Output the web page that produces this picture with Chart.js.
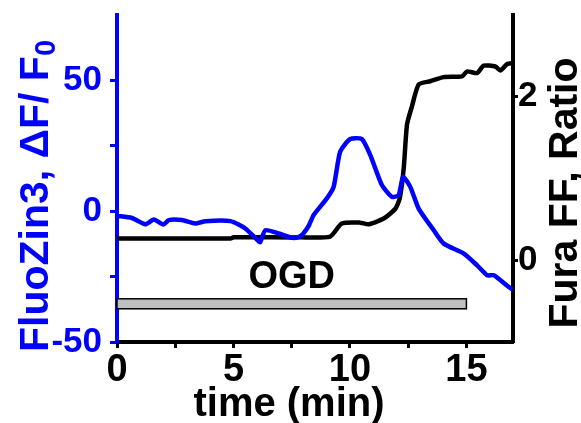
<!DOCTYPE html>
<html>
<head>
<meta charset="utf-8">
<script src="https://cdn.jsdelivr.net/npm/chart.js@4"></script>
<style>
  html, body { margin: 0; padding: 0; background: #fff; }
</style>
</head>
<body>
<canvas id="myChart" width="581" height="423"></canvas>
<script>
// FluoZin3 trace (left axis, dF/F0 %)
const znTimes  = [0, 0.64, 1.22, 1.58, 2.0, 2.22, 2.79, 3.36, 3.8, 4.87, 5.51, 6.08, 6.15, 6.37, 6.94, 7.52, 7.81, 8.0, 8.24, 8.44, 9.01, 9.3, 9.58, 10.01, 10.51, 10.87, 11.37, 11.8, 12.09, 12.28, 12.59, 12.95, 13.6, 14.03, 14.89, 15.46, 15.89, 16.18, 16.82, 17];
const znValues = [-1.8, -2.6, -5, -3.2, -5.1, -3.4, -3.4, -4.7, -3.8, -3.8, -6.6, -11.5, -11.8, -7.3, -8.5, -10.2, -9.8, -8.5, -5.4, -1.5, 4.9, 9.3, 22.7, 27.6, 27.6, 21.5, 10, 5.5, 6.1, 13.1, 9.3, 1.0, -7.3, -12.4, -16.2, -20.7, -24.5, -24.5, -29, -30];

// Fura FF trace (right axis, ratio)
const caTimes  = [0, 4.87, 5.0, 7.86, 9.15, 9.65, 10.44, 10.8, 11.45, 11.95, 12.14, 12.31, 12.45, 12.66, 12.95, 13.45, 14.02, 14.81, 15.03, 15.46, 15.74, 16.24, 16.46, 16.75, 17];
const caValues = [0.266, 0.266, 0.28, 0.28, 0.29, 0.45, 0.46, 0.44, 0.51, 0.63, 0.76, 1.13, 1.66, 1.88, 2.15, 2.19, 2.24, 2.25, 2.31, 2.29, 2.38, 2.37, 2.32, 2.40, 2.41];

const xTickLabels  = [0, 5, 10, 15];
const znTickLabels = [-50, 0, 50];
const caTickLabels = [0, 2];

// OGD period bar
const ogdStart = 0;
const ogdEnd = 15;
const ogdLevel = -35.4;
const ogdLabel = 'OGD';

const FONT = "'Liberation Sans', Arial, sans-serif";
const BLUE = '#0000ff';

const toPoints = (xs, ys) => xs.map((x, i) => ({ x: x, y: ys[i] }));

// draws the OGD bar and the rotated axis titles
const extrasPlugin = {
    id: 'extras',
    beforeDatasetsDraw(chart) {
        const c = chart.ctx;
        const xs = chart.scales.x;
        const ys = chart.scales.yZn;
        const x0 = xs.getPixelForValue(ogdStart);
        const x1 = xs.getPixelForValue(ogdEnd);
        const yc = ys.getPixelForValue(ogdLevel);
        c.save();
        c.fillStyle = '#c0c0c0';
        c.fillRect(x0, yc - 5, x1 - x0, 10);
        c.strokeStyle = '#000';
        c.lineWidth = 1.5;
        c.strokeRect(x0, yc - 5, x1 - x0, 10);
        c.fillStyle = '#000';
        c.font = 'bold 38px ' + FONT;
        c.textAlign = 'center';
        c.textBaseline = 'alphabetic';
        c.fillText(ogdLabel, (x0 + x1) / 2, yc - 16);
        c.restore();
    },
    afterDraw(chart) {
        const c = chart.ctx;
        c.save();
        c.textBaseline = 'alphabetic';
        c.textAlign = 'left';

        // left title with subscript
        c.save();
        c.translate(48, 196);
        c.rotate(-Math.PI / 2);
        c.fillStyle = BLUE;
        c.font = 'bold 41px ' + FONT;
        const main = 'FluoZin3, \u0394F/ F';
        const w1 = c.measureText(main).width;
        c.font = 'bold 29px ' + FONT;
        const w2 = c.measureText('0').width;
        const start = -(w1 + w2) / 2;
        c.font = 'bold 41px ' + FONT;
        c.fillText(main, start, 0);
        c.font = 'bold 29px ' + FONT;
        c.fillText('0', start + w1, 7);
        c.restore();

        // right title
        c.save();
        c.translate(577, 193);
        c.rotate(-Math.PI / 2);
        c.fillStyle = '#000';
        c.font = 'bold 41px ' + FONT;
        c.textAlign = 'center';
        c.fillText('Fura FF, Ratio', 0, 0);
        c.restore();

        // x title
        c.fillStyle = '#000';
        c.font = 'bold 40px ' + FONT;
        c.textAlign = 'center';
        c.fillText('time (min)', 289, 416);
        c.restore();
    }
};

const fitVertical = w => s => {
    s.width = w;
    s.paddingTop = 0;
    s.paddingBottom = 0;
};

const ctx = document.getElementById('myChart').getContext('2d');

const chart = new Chart(ctx, {
    type: 'line',
    data: {
        datasets: [
            {
                label: 'FluoZin3',
                data: toPoints(znTimes, znValues),
                yAxisID: 'yZn',
                borderColor: BLUE,
                borderWidth: 4.5,
                pointRadius: 0,
                tension: 0.2,
                fill: false
            },
            {
                label: 'Fura FF',
                data: toPoints(caTimes, caValues),
                yAxisID: 'yCa',
                borderColor: '#000',
                borderWidth: 4.5,
                pointRadius: 0,
                tension: 0.2,
                fill: false
            }
        ]
    },
    options: {
        responsive: false,
        animation: false,
        layout: { padding: { top: 15, left: 0, right: 0, bottom: 0 } },
        plugins: {
            legend: { display: false },
            tooltip: { enabled: false }
        },
        scales: {
            x: {
                type: 'linear',
                position: 'bottom',
                min: 0,
                max: 17,
                afterFit: s => {
                    s.height = 81;
                    s.paddingLeft = 0;
                    s.paddingRight = 0;
                },
                ticks: {
                    stepSize: 2.5,
                    includeBounds: false,
                    autoSkip: false,
                    maxRotation: 0,
                    padding: 0,
                    color: '#000',
                    font: { family: FONT, size: 38, weight: 'bold' },
                    callback: v => xTickLabels.includes(v) ? String(v) : ''
                },
                grid: { drawOnChartArea: false, tickLength: 6, tickWidth: 3, tickColor: '#000' },
                border: { color: '#000', width: 4 }
            },
            yZn: {
                type: 'linear',
                position: 'left',
                min: -50,
                max: 75,
                afterFit: fitVertical(117),
                ticks: {
                    stepSize: 25,
                    includeBounds: false,
                    autoSkip: false,
                    padding: 8,
                    color: BLUE,
                    font: { family: FONT, size: 35, weight: 'bold' },
                    callback: v => znTickLabels.includes(v) ? String(v) : ''
                },
                grid: {
                    drawOnChartArea: false,
                    tickLength: 7,
                    tickWidth: 3,
                    tickColor: c => (c.tick && c.tick.value === 75) ? 'rgba(0,0,0,0)' : BLUE
                },
                border: { color: BLUE, width: 4 }
            },
            yCa: {
                type: 'linear',
                position: 'right',
                min: -1,
                max: 3,
                afterFit: fitVertical(68),
                ticks: {
                    stepSize: 1,
                    includeBounds: false,
                    autoSkip: false,
                    padding: 0,
                    color: '#000',
                    font: { family: FONT, size: 35, weight: 'bold' },
                    callback: v => caTickLabels.includes(v) ? String(v) : ''
                },
                grid: {
                    drawOnChartArea: false,
                    tickLength: 5,
                    tickWidth: 3,
                    tickColor: c => (c.tick && caTickLabels.includes(c.tick.value)) ? '#000' : 'rgba(0,0,0,0)'
                },
                border: { color: '#000', width: 4 }
            }
        }
    },
    plugins: [extrasPlugin]
});
</script>
</body>
</html>
